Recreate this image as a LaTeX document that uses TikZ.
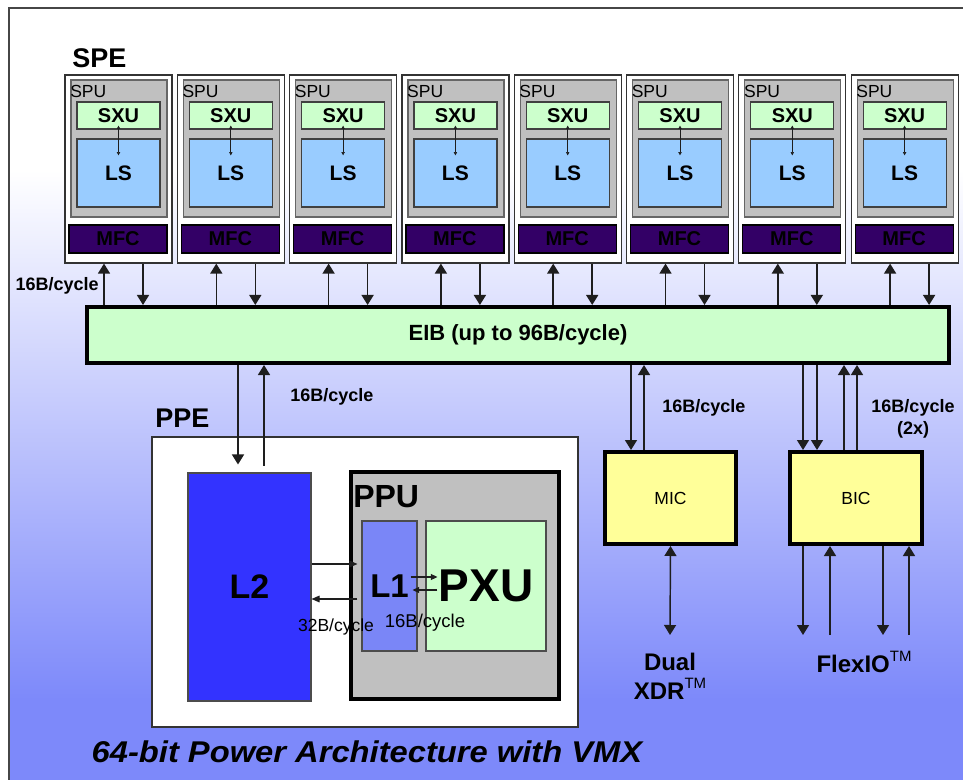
\documentclass[tikz,border=0pt]{standalone}
\usepackage{fontspec}
\setmainfont{Liberation Sans}
\usetikzlibrary{arrows.meta,calc,fit}
\newcommand\fpx[1]{\fontsize{\dimexpr #1pt*3/4\relax}{\dimexpr #1pt*9/10\relax}\selectfont}
\newcommand\tmark{\raisebox{0.8ex}{\mdseries\fpx{15}TM}}
\definecolor{bgblue}{RGB}{125,137,250}
\definecolor{palegreen}{RGB}{204,255,204}
\definecolor{lsblue}{RGB}{153,204,255}
\definecolor{mfcpurple}{RGB}{51,0,102}
\definecolor{mfctext}{RGB}{0,0,0}
\definecolor{spugray}{RGB}{192,192,192}
\definecolor{l2blue}{RGB}{51,51,255}
\definecolor{l1blue}{RGB}{122,134,247}
\definecolor{icyellow}{RGB}{255,255,153}
\definecolor{linec}{RGB}{30,30,30}
\definecolor{framec}{RGB}{70,70,70}
\tikzset{
  arr/.style={line width=1.1pt, draw=linec, -{Triangle[width=9pt,length=7.5pt]}},
  darr/.style={line width=1.1pt, draw=linec, {Triangle[width=9pt,length=7.5pt]}-{Triangle[width=9pt,length=7.5pt]}},
  midarr/.style={line width=0.8pt, draw=linec, -{Triangle[width=5pt,length=6pt]}},
  smallarr/.style={line width=0.8pt, draw=linec, -{Triangle[width=4.5pt,length=5pt]}},
  tinyarr/.style={line width=0.5pt, draw=linec, {Triangle[width=2.5pt,length=2.5pt]}-{Triangle[width=2.5pt,length=2.5pt]}},
  speout/.style={draw=black!80, line width=0.9pt, fill=white, inner sep=0pt},
  spubox/.style={draw=black!60, line width=0.9pt, fill=spugray, inner sep=0pt},
  sxubox/.style={draw=black!75, line width=0.9pt, fill=palegreen, inner sep=0pt},
  lsbox/.style={draw=black!75, line width=0.9pt, fill=lsblue, inner sep=0pt},
  mfcbox/.style={draw=black, line width=0.9pt, fill=mfcpurple, inner sep=0pt},
  eibbox/.style={draw=black, line width=3pt, fill=palegreen, inner sep=0pt},
  icbox/.style={draw=black, line width=3pt, fill=icyellow, inner sep=0pt},
  ppebox/.style={draw=black!80, line width=0.8pt, fill=white, inner sep=0pt},
  l2box/.style={draw=black!70, line width=0.8pt, fill=l2blue, inner sep=0pt},
  ppubox/.style={draw=black, line width=3pt, fill=spugray, inner sep=0pt},
  l1box/.style={draw=black!70, line width=0.8pt, fill=l1blue, inner sep=0pt},
  pxubox/.style={draw=black!70, line width=0.8pt, fill=palegreen, inner sep=0pt},
  txt/.style={inner sep=0pt, font=\bfseries\fpx{#1}},
  rtxt/.style={inner sep=0pt, font=\fpx{#1}},
  lbl/.style={font=\bfseries\fpx{18}, inner sep=0pt},
}
\begin{document}
\begin{tikzpicture}[x=0.75pt,y=-0.75pt]
\useasboundingbox (0,0) rectangle (963,780);
% background
\fill[white] (0,0) rectangle (963,780);
\shade[top color=white, bottom color=bgblue] (9,170) rectangle (963,700);
\fill[bgblue] (9,699.5) rectangle (963,780);
\draw[framec, line width=1pt] (9,780) -- (9,8) -- (963,8);

% EIB
\node[eibbox, fit={(87,307)(949,363)}] (eib) {};
\node[txt=22] (eibt) at (eib.center) {EIB (up to 96B/cycle)};

% SPE label
\node[txt=27, anchor=west] (spelbl) at (72,58) {SPE};

% SPE blocks
\foreach \i in {0,...,7}{
  \pgfmathsetmacro\xo{65+112.3*\i}
  \node[speout, fit={(\xo,75)({\xo+107},263)}] (spe\i) {};
  \node[spubox, fit={({\xo+6},80)({\xo+102},217)}] (spu\i) {};
  \node[rtxt=17.5, anchor=west] (spul\i) at ({\xo+5},91) {SPU};
  \node[sxubox, fit={({\xo+12},102)({\xo+95},129)}] (sxu\i) {};
  \node[txt=20] (sxut\i) at (sxu\i.center) {SXU};
  \node[lsbox, fit={({\xo+12},139)({\xo+95},207)}] (ls\i) {};
  \node[txt=21] (lst\i) at (ls\i.center) {LS};
  \node[mfcbox, fit={({\xo+4},225)({\xo+102},253)}] (mfc\i) {};
  \node[txt=20, text=mfctext] (mfct\i) at (mfc\i.center) {MFC};
  \draw[tinyarr] ($(sxu\i.south)+(0,-4)$) -- ($(ls\i.north)+(0,17)$);
  \coordinate (up\i) at ({\xo+39},0);
  \coordinate (dn\i) at ({\xo+78},0);
  \draw[arr] (eib.north -| up\i) -- (spe\i.south -| up\i);
  \draw[arr] (spe\i.south -| dn\i) -- (eib.north -| dn\i);
}
\node[lbl, anchor=east] (l16a) at (99,286) {16B/cycle};

% PPE
\node[txt=27, anchor=west] (ppelbl) at (155,418) {PPE};
\node[ppebox, fit={(152,437)(578,727)}] (ppe) {};
\node[l2box, fit={(188,473)(311,701)}] (l2) {};
\node[txt=34] (l2t) at (l2.center) {L2};
\node[ppubox, fit={(351,472)(559,699)}] (ppu) {};
\node[txt=32, anchor=west] (ppulbl) at (353,497) {PPU};
\node[l1box, fit={(362,521)(417,651)}] (l1) {};
\node[txt=33] (l1t) at (l1.center) {L1};
\node[pxubox, fit={(426,521)(546,651)}] (pxu) {};
\node[txt=46] (pxut) at (pxu.center) {PXU};

\coordinate (c238) at (238,0);
\coordinate (c264) at (264,0);
\draw[arr, shorten >=6pt] (eib.south -| c238) -- (l2.north -| c238);
\draw[arr, shorten <=5pt] (l2.north -| c264) -- (eib.south -| c264);
\node[lbl, anchor=west] (l16b) at (290,397) {16B/cycle};

\coordinate (y564) at (0,564);
\coordinate (y599) at (0,599);
\coordinate (y577) at (0,577);
\coordinate (y590) at (0,590);
\draw[midarr] (l2.east |- y564) -- ($(l1.west |- y564)+(-4,0)$);
\draw[midarr] ($(l1.west |- y599)+(-4,0)$) -- (l2.east |- y599);
\draw[smallarr] ($(l1.east |- y577)+(-7,0)$) -- ($(pxu.west |- y577)+(12,0)$);
\draw[smallarr] ($(pxu.west |- y590)+(12,0)$) -- ($(l1.east |- y590)+(-5,0)$);
\node[rtxt=17.5] (l32) at (336,627) {32B/cycle};
\node[rtxt=18.5] (l16c) at (425,623) {16B/cycle};

% MIC / BIC
\node[icbox, fit={(605,452)(736,544)}] (mic) {};
\node[rtxt=17.5] (mict) at (mic.center) {MIC};
\node[icbox, fit={(790,452)(922,544)}] (bic) {};
\node[rtxt=17.5] (bict) at (bic.center) {BIC};
\foreach \n/\xx in {a/631,b/644,c/803,d/817,e/844,f/857,g/830,h/883,k/909}{
  \coordinate (v\n) at (\xx,0);
}
\draw[arr] (eib.south -| va) -- (mic.north -| va);
\draw[arr] (mic.north -| vb) -- (eib.south -| vb);
\draw[arr] (eib.south -| vc) -- (bic.north -| vc);
\draw[arr] (eib.south -| vd) -- (bic.north -| vd);
\draw[arr] (bic.north -| ve) -- (eib.south -| ve);
\draw[arr] (bic.north -| vf) -- (eib.south -| vf);
\node[lbl, anchor=west] (l16d) at (662,408) {16B/cycle};
\node[lbl, align=center] (l16e) at (913,419) {16B/cycle\\(2x)};

\coordinate (xdrend) at (670,635);
\coordinate (ya) at (0,635);
\draw[darr] (mic.south) -- (xdrend);
\draw[arr] (bic.south -| vc) -- (vc |- ya);
\draw[arr] (vg |- ya) -- (bic.south -| vg);
\draw[arr] (bic.south -| vh) -- (vh |- ya);
\draw[arr] (vk |- ya) -- (bic.south -| vk);

\node[txt=24, align=center] (dual) at (670,676) {Dual\\XDR\tmark};
\node[txt=24] (flex) at (864,662) {FlexIO\tmark};

% caption
\node[inner sep=0pt, font=\bfseries\itshape\fpx{30}, xscale=1.09] (cap) at (367,752) {64-bit Power Architecture with VMX};
\end{tikzpicture}
\end{document}
